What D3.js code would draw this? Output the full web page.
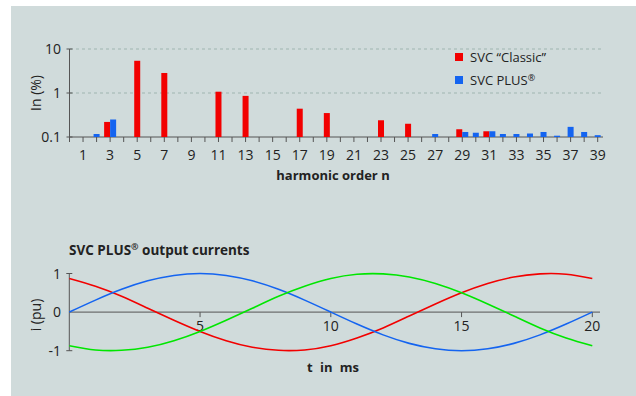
<!DOCTYPE html>
<html>
<head>
<meta charset="utf-8">
<script src="https://cdn.jsdelivr.net/npm/d3@7"></script>
<style>
  body { margin: 0; background: #fff; }
  svg text { font-family: "Open Sans", "Noto Sans", sans-serif; fill: #222; }
</style>
</head>
<body>
<div id="chart"></div>
<script>
// harmonic spectrum (values in %)
const tickOrders = [1, 3, 5, 7, 9, 11, 13, 15, 17, 19, 21, 23, 25, 27, 29, 31, 33, 35, 37, 39];
const classicN = [3, 5, 7, 11, 13, 17, 19, 23, 25, 29, 31];
const classicVal = [0.22, 5.4, 2.85, 1.07, 0.86, 0.44, 0.35, 0.24, 0.2, 0.15, 0.135];
const plusN = [2, 3, 27, 29, 30, 31, 32, 33, 34, 35, 36, 37, 38, 39];
const plusVal = [0.117, 0.25, 0.117, 0.13, 0.125, 0.135, 0.117, 0.117, 0.12, 0.13, 0.107, 0.17, 0.13, 0.11];
const yTicksTop = [0.1, 1, 10];

// output currents, read every 1 ms
const tMs = d3.range(0, 21);
const iRed = [0.87, 0.67, 0.41, 0.10, -0.21, -0.5, -0.74, -0.91, -0.99, -0.98, -0.87, -0.67, -0.41, -0.10, 0.21, 0.5, 0.74, 0.91, 0.99, 0.98, 0.87];
const iBlue = [0, 0.31, 0.59, 0.81, 0.95, 1.0, 0.95, 0.81, 0.59, 0.31, 0, -0.31, -0.59, -0.81, -0.95, -1.0, -0.95, -0.81, -0.59, -0.31, 0];
const iGreen = [-0.87, -0.98, -0.99, -0.91, -0.74, -0.5, -0.21, 0.10, 0.41, 0.67, 0.87, 0.98, 0.99, 0.91, 0.74, 0.5, 0.21, -0.10, -0.41, -0.67, -0.87];
const xTicksBottom = [5, 10, 15, 20];
const yTicksBottom = [-1, 0, 1];

const width = 636, height = 396;
const red = "#f20000", blue = "#1464f0", green = "#00e600";
const axisCol = "#555";

const svg = d3.select("#chart")
    .append("svg")
    .attr("width", width)
    .attr("height", height);

svg.append("rect")
    .attr("x", 11).attr("y", 6)
    .attr("width", width - 11).attr("height", height - 6)
    .attr("fill", "#d0dbdb");

// ---- top chart: harmonics ----
const x = d3.scaleLinear().domain([0, 39]).range([69.5, 597.7]);
const y = d3.scaleLog().domain([0.1, 10]).range([137, 49]);
const barW = 6;

// gridlines
svg.append("g").selectAll("line")
    .data([1, 10])
    .enter().append("line")
    .attr("x1", 70).attr("x2", 602)
    .attr("y1", d => y(d)).attr("y2", d => y(d))
    .attr("stroke", "#9fb5b0")
    .attr("stroke-dasharray", "3,3");

// axes
const xAxisTop = svg.append("g")
    .attr("transform", `translate(0,${y(0.1)})`);
xAxisTop.append("line")
    .attr("x1", 69.5).attr("x2", 603)
    .attr("stroke", axisCol);
xAxisTop.selectAll(".tk")
    .data(d3.range(0, 40))
    .enter().append("line")
    .attr("x1", d => x(d)).attr("x2", d => x(d))
    .attr("y1", 0).attr("y2", 5)
    .attr("stroke", axisCol);
xAxisTop.selectAll("text")
    .data(tickOrders)
    .enter().append("text")
    .attr("x", d => x(d))
    .attr("y", 23)
    .attr("text-anchor", "middle")
    .attr("font-size", 14)
    .text(d => d);

const yAxisTop = svg.append("g");
yAxisTop.append("line")
    .attr("x1", x(0)).attr("x2", x(0))
    .attr("y1", y(10)).attr("y2", y(0.1))
    .attr("stroke", axisCol);
yAxisTop.selectAll(".tk")
    .data(yTicksTop)
    .enter().append("line")
    .attr("x1", x(0) - 3).attr("x2", x(0) + 3)
    .attr("y1", d => y(d)).attr("y2", d => y(d))
    .attr("stroke", axisCol);
yAxisTop.selectAll("text")
    .data(yTicksTop)
    .enter().append("text")
    .attr("x", 61)
    .attr("y", d => y(d) + 5)
    .attr("text-anchor", "end")
    .attr("font-size", 14)
    .text(d => d);

svg.append("text")
    .attr("transform", "rotate(-90)")
    .attr("x", -93)
    .attr("y", 41)
    .attr("text-anchor", "middle")
    .attr("font-size", 14)
    .text("In (%)");

svg.append("text")
    .attr("x", 333)
    .attr("y", 180)
    .attr("text-anchor", "middle")
    .attr("font-size", 13)
    .attr("font-weight", "bold")
    .text("harmonic order n");

// bars: side by side when both series have the order, else centred
const classicData = classicN.map((n, i) => ({n, v: classicVal[i]}));
const plusData = plusN.map((n, i) => ({n, v: plusVal[i]}));

svg.append("g").selectAll("rect")
    .data(classicData)
    .enter().append("rect")
    .attr("x", d => plusN.includes(d.n) ? x(d.n) - barW : x(d.n) - barW / 2)
    .attr("y", d => y(d.v))
    .attr("width", barW)
    .attr("height", d => y(0.1) - y(d.v))
    .attr("fill", red);

svg.append("g").selectAll("rect")
    .data(plusData)
    .enter().append("rect")
    .attr("x", d => classicN.includes(d.n) ? x(d.n) : x(d.n) - barW / 2)
    .attr("y", d => y(d.v))
    .attr("width", barW)
    .attr("height", d => y(0.1) - y(d.v))
    .attr("fill", blue);

// legend
const legend = svg.append("g").attr("transform", "translate(455,53)");
legend.append("rect").attr("x", 0).attr("y", 0).attr("width", 8).attr("height", 8).attr("fill", red);
legend.append("text").attr("x", 15).attr("y", 9).attr("font-size", 13).text("SVC \u201CClassic\u201D");
legend.append("rect").attr("x", 0).attr("y", 23).attr("width", 8).attr("height", 8).attr("fill", blue);
const lt = legend.append("text").attr("x", 15).attr("y", 32).attr("font-size", 13);
lt.append("tspan").text("SVC PLUS");
lt.append("tspan").attr("dy", -4).attr("font-size", 9).text("\u00AE");

// ---- bottom chart: output currents ----
const xt = d3.scaleLinear().domain([0, 20]).range([69.3, 592.3]);
const yi = d3.scaleLinear().domain([-1, 1]).range([350.7, 273.5]);

const title = svg.append("text")
    .attr("x", 69)
    .attr("y", 255)
    .attr("font-size", 13.5)
    .attr("font-weight", "bold");
title.append("tspan").text("SVC PLUS");
title.append("tspan").attr("dy", -5).attr("font-size", 9).text("\u00AE");
title.append("tspan").attr("dy", 5).text(" output currents");

svg.append("line")
    .attr("x1", xt(0)).attr("x2", 600)
    .attr("y1", yi(0)).attr("y2", yi(0))
    .attr("stroke", axisCol);
svg.append("g").selectAll("line")
    .data(xTicksBottom)
    .enter().append("line")
    .attr("x1", d => xt(d)).attr("x2", d => xt(d))
    .attr("y1", yi(0)).attr("y2", yi(0) + 5)
    .attr("stroke", axisCol);
svg.append("g").selectAll("text")
    .data(xTicksBottom)
    .enter().append("text")
    .attr("x", d => xt(d))
    .attr("y", yi(0) + 19)
    .attr("text-anchor", "middle")
    .attr("font-size", 14)
    .text(d => d);

svg.append("line")
    .attr("x1", xt(0)).attr("x2", xt(0))
    .attr("y1", yi(1)).attr("y2", yi(-1))
    .attr("stroke", axisCol);
svg.append("g").selectAll("line")
    .data([-1, 1])
    .enter().append("line")
    .attr("x1", xt(0) - 3).attr("x2", xt(0) + 3)
    .attr("y1", d => yi(d)).attr("y2", d => yi(d))
    .attr("stroke", axisCol);
svg.append("g").selectAll("text")
    .data(yTicksBottom)
    .enter().append("text")
    .attr("x", 61)
    .attr("y", d => yi(d) + 5)
    .attr("text-anchor", "end")
    .attr("font-size", 14)
    .text(d => d);

svg.append("text")
    .attr("transform", "rotate(-90)")
    .attr("x", -315)
    .attr("y", 41)
    .attr("text-anchor", "middle")
    .attr("font-size", 14)
    .text("i (pu)");

svg.append("text")
    .attr("x", 333)
    .attr("y", 372)
    .attr("text-anchor", "middle")
    .attr("font-size", 13)
    .attr("font-weight", "bold")
    .attr("word-spacing", 4)
    .text("t in ms");

const line = d3.line()
    .x((d, i) => xt(tMs[i]))
    .y(d => yi(d))
    .curve(d3.curveNatural);

[[iRed, red], [iBlue, blue], [iGreen, green]].forEach(([vals, col]) => {
    svg.append("path")
        .datum(vals)
        .attr("fill", "none")
        .attr("stroke", col)
        .attr("stroke-width", 1.6)
        .attr("d", line);
});
</script>
</body>
</html>
